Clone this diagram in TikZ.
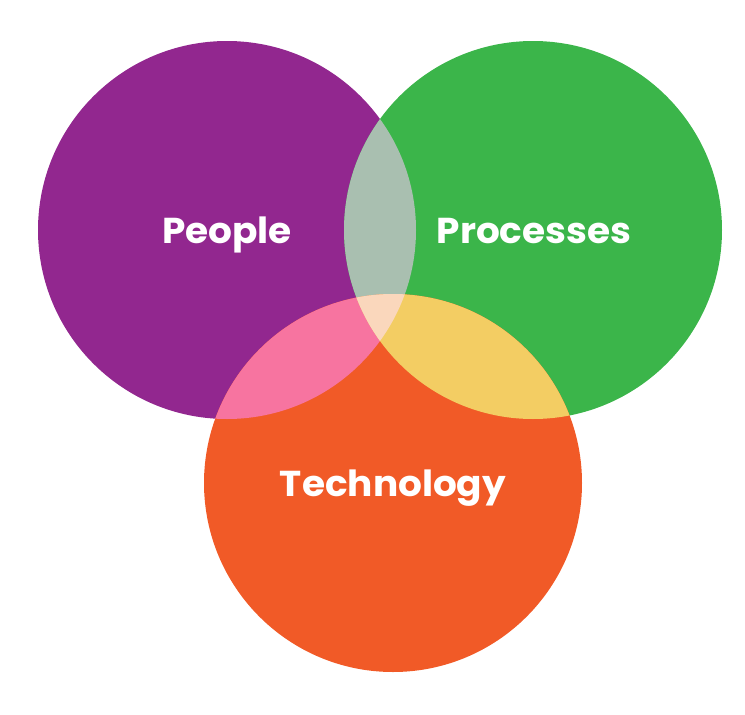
\documentclass[tikz,border=0pt]{standalone}
\usepackage{fontspec}
\setmainfont{Poppins}
\definecolor{purp}{HTML}{92278F}
\definecolor{grn}{HTML}{3BB54A}
\definecolor{orng}{HTML}{F15A27}
\definecolor{pg}{HTML}{A9BFB0}
\definecolor{po}{HTML}{F774A0}
\definecolor{go}{HTML}{F3CD63}
\definecolor{pgo}{HTML}{FAD7BC}
\tikzset{lab/.style={text=white,font=\fontsize{36}{36}\selectfont\bfseries,inner sep=0pt,anchor=base,xscale=1.04}}
\begin{document}
\begin{tikzpicture}[x=1pt,y=-1pt]
\useasboundingbox (0,0) rectangle (745,715);
\coordinate (cP) at (227,230);
\coordinate (cG) at (533,230);
\coordinate (cO) at (393,483);
\def\R{189pt}
\fill[purp] (cP) circle[radius=\R];
\fill[grn] (cG) circle[radius=\R];
\fill[orng] (cO) circle[radius=\R];
\begin{scope}
\clip (cP) circle[radius=\R];
\fill[pg] (cG) circle[radius=\R];
\fill[po] (cO) circle[radius=\R];
\end{scope}
\begin{scope}
\clip (cG) circle[radius=\R];
\fill[go] (cO) circle[radius=\R];
\end{scope}
\begin{scope}
\clip (cP) circle[radius=\R];
\clip (cG) circle[radius=\R];
\fill[pgo] (cO) circle[radius=\R];
\end{scope}
\node[lab] (people) at (227,243) {People};
\node[lab] (processes) at (534,243) {Processes};
\node[lab] (technology) at (393,496) {Technology};
\end{tikzpicture}
\end{document}
